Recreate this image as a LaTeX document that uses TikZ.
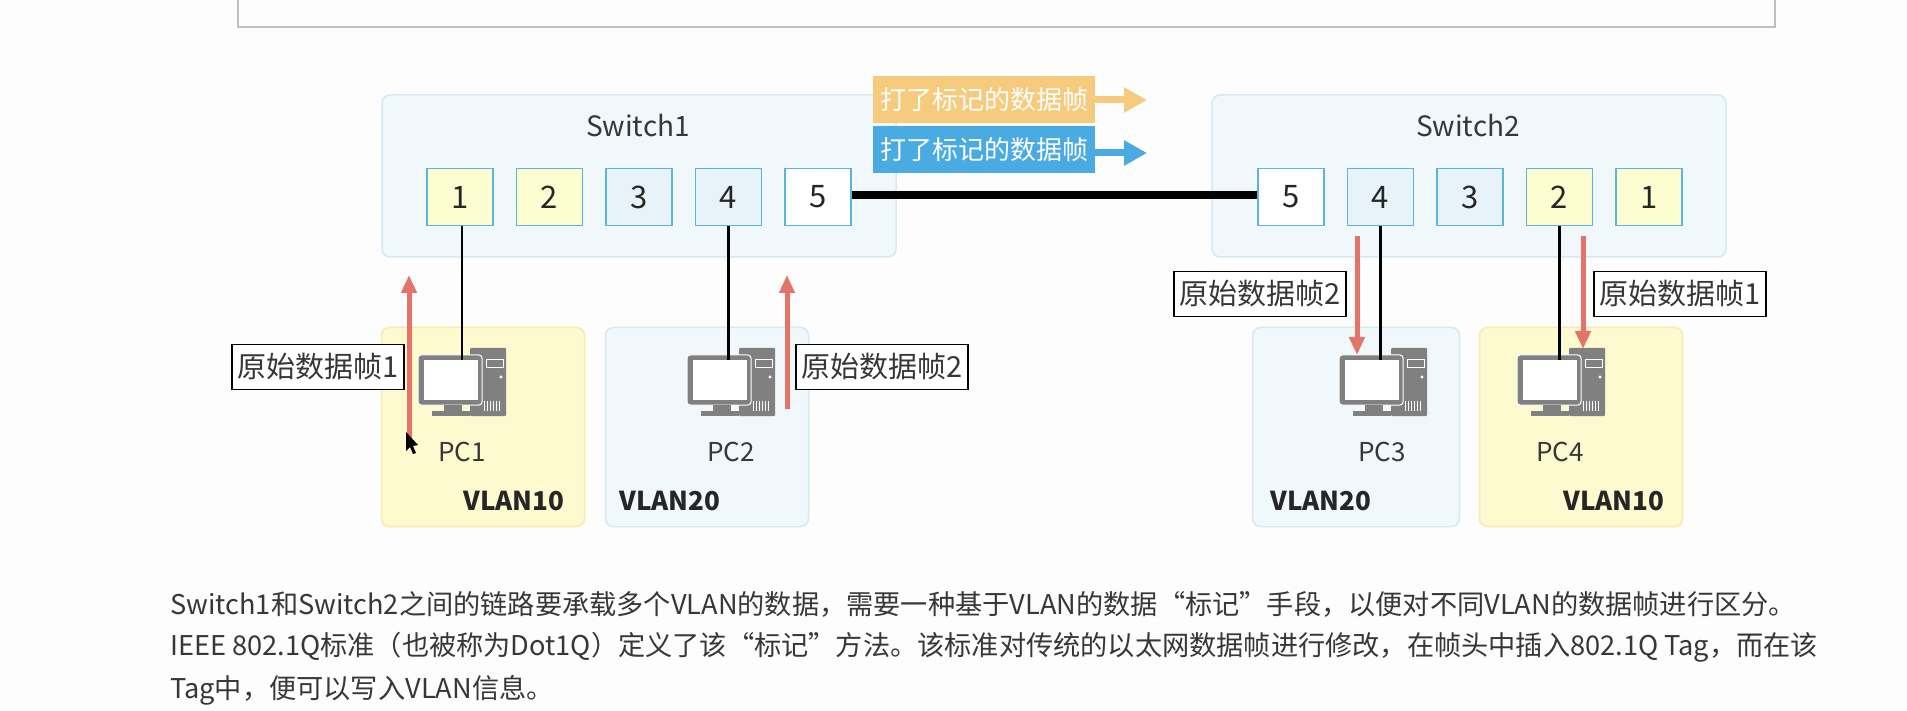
\documentclass[tikz,border=0pt]{standalone}
\usepackage{fontspec}
\setmainfont{Noto Sans CJK SC}
\usepackage{tikz}
\usetikzlibrary{arrows.meta,positioning}
\definecolor{portline}  {RGB}{ 90,180,220}
\definecolor{swline}    {RGB}{214,233,242}
\definecolor{swbg}      {RGB}{241,248,252}
\definecolor{vlanyellow}{RGB}{254,250,208}
\definecolor{vlanedge}  {RGB}{252,232,170}
\definecolor{portyellow}{RGB}{254,253,210}
\definecolor{portblue}  {RGB}{232,243,249}
\definecolor{pcgray}    {RGB}{128,128,128}
\definecolor{framered}  {RGB}{228,115,105}
\definecolor{tagorange} {RGB}{246,203,126}
\definecolor{tagblue}   {RGB}{ 74,171,227}
\definecolor{textgray}  {RGB}{ 55, 55, 55}
\definecolor{pagebg}    {RGB}{253,253,253}

\begin{document}
\begin{tikzpicture}[
    x=1pt, y=-1pt,
    node distance=22pt,
    switchbox/.style={draw=swline, fill=swbg, line width=1.5pt, rounded corners=8pt, minimum width=514pt, minimum height=162pt},
    vlanyel/.style={draw=vlanedge, fill=vlanyellow, line width=1.5pt, rounded corners=8pt, minimum width=203pt, minimum height=199pt},
    vlanblu/.style={draw=swline, fill=swbg, line width=1.5pt, rounded corners=8pt, minimum width=203pt, minimum height=199pt},
    port/.style={draw=portline, line width=1.5pt, minimum width=66pt, minimum height=57pt, inner sep=0pt, font=\fontsize{31}{34}\selectfont, text=black!85},
    portyel/.style={port, fill=portyellow},
    portblu/.style={port, fill=portblue},
    portwht/.style={port, fill=white},
    framelabel/.style={draw=black, fill=white, line width=1.5pt, inner sep=0pt, minimum width=172pt, minimum height=45pt, font=\fontsize{29}{32}\selectfont, text=textgray},
    taglabel/.style={minimum width=222pt, minimum height=47pt, inner sep=0pt, font=\fontsize{26}{30}\selectfont, text=white},
    nametext/.style={font=\fontsize{26}{30}\selectfont, text=textgray},
    vlanname/.style={font=\bfseries\fontsize{26}{30}\selectfont, text=black!85},
    para/.style={anchor=west, inner sep=0pt, font=\fontsize{27.2}{30}\selectfont, text=textgray},
    link/.style={draw=black, line width=2.8pt},
    redarrow/.style={-{Triangle[width=15pt,length=18pt]}, draw=framered, fill=framered, line width=5pt},
    pcicon/.pic={
        \fill[pcgray, rounded corners=1pt] (8,-34) rectangle (44,34);
        \draw[white, line width=1pt] (24.5,-22) rectangle (41,-14);
        \fill[white] (39,-5) circle (1.6);
        \foreach \vx in {22,25,28,31,34,37} {
            \draw[white, line width=0.7pt] (\vx,19) -- (\vx,29);
        }
        \fill[pcgray, rounded corners=3pt, draw=white, line width=1pt] (-44,-27) rectangle (20,23);
        \node[minimum width=54pt, minimum height=40pt, inner sep=0pt, fill=white] (-mon) at (-11,-2) {};
        \fill[pcgray] (-18,23) rectangle (0,29);
        \fill[pcgray] (-30,29) rectangle (8,34);
    }
]
    \useasboundingbox[fill=pagebg] (0,0) rectangle (1907,711);

    % Empty frame cut off by the top edge
    \draw[draw=black!25, line width=2pt] (238,-2) -- (238,27) -- (1775,27) -- (1775,-2);

    % Switches
    \node[switchbox] (sw1) at (639,176) {};
    \node[switchbox] (sw2) at (1469,176) {};
    \node[nametext, font=\fontsize{28}{30}\selectfont] (sw1name) at (638,126) {Switch1};
    \node[nametext, font=\fontsize{28}{30}\selectfont] (sw2name) at (1468,126) {Switch2};

    % Ports of Switch1
    \node[portyel] (a1) at (460,197) {1};
    \node[portyel] (a2) [right=of a1] {2};
    \node[portblu] (a3) [right=of a2] {3};
    \node[portblu] (a4) [right=of a3] {4};
    \node[portwht] (a5) [right=of a4] {5};

    % Ports of Switch2
    \node[portwht] (b5) at (1291,197) {5};
    \node[portblu] (b4) [right=of b5] {4};
    \node[portblu] (b3) [right=of b4] {3};
    \node[portyel] (b2) [right=of b3] {2};
    \node[portyel] (b1) [right=of b2] {1};

    % VLAN areas
    \node[vlanyel] (v1) at (483,427) {};
    \node[vlanblu] (v2) at (707,427) {};
    \node[vlanblu, minimum width=207pt] (v3) at (1356,427) {};
    \node[vlanyel] (v4) at (1581,427) {};

    % Computers
    \pic (pc1) at (462,382) {pcicon};
    \pic (pc2) at (731,382) {pcicon};
    \pic (pc3) at (1383,382) {pcicon};
    \pic (pc4) at (1561,382) {pcicon};
    \node[nametext] (pc1name) at (462,452) {PC1};
    \node[nametext] (pc2name) at (731,452) {PC2};
    \node[nametext] (pc3name) at (1382,452) {PC3};
    \node[nametext] (pc4name) at (1560,452) {PC4};
    \node[vlanname] (v1name) at (514,501) {VLAN10};
    \node[vlanname] (v2name) at (670,501) {VLAN20};
    \node[vlanname] (v3name) at (1321,501) {VLAN20};
    \node[vlanname] (v4name) at (1614,501) {VLAN10};

    % Connections
    \draw[link] ([xshift=2pt]a1.south) -- ([xshift=2pt]a1.south |- pc1-mon.north);
    \draw[link] (a4.south) -- (a4.south |- pc2-mon.north);
    \draw[link] (b4.south) -- (b4.south |- pc3-mon.north);
    \draw[link] (b2.south) -- (b2.south |- pc4-mon.north);
    \draw[draw=black, line width=8pt] ([yshift=2pt]a5.east) -- ([yshift=2pt]b5.west);

    % Frame arrows
    \coordinate (r1a) at (409,443);
    \coordinate (r1b) at (409,275);
    \coordinate (r2a) at (787,409);
    \coordinate (r2b) at (787,275);
    \coordinate (r3a) at (1357,236);
    \coordinate (r3b) at (1357,355);
    \coordinate (r4a) at (1583,236);
    \coordinate (r4b) at (1583,349);
    \draw[redarrow] (r1a) -- (r1b);
    \draw[redarrow] (r2a) -- (r2b);
    \draw[redarrow] (r3a) -- (r3b);
    \draw[redarrow] (r4a) -- (r4b);
    \node[framelabel] (f1) at (318,367) {原始数据帧1};
    \node[framelabel] (f2) at (882,367) {原始数据帧2};
    \node[framelabel] (f3) at (1260,294) {原始数据帧2};
    \node[framelabel] (f4) at (1680,294) {原始数据帧1};

    % Tagged frame legend
    \node[taglabel, fill=tagorange] (tag1) at (984,100) {打了标记的数据帧};
    \node[taglabel, fill=tagblue] (tag2) [below=2pt of tag1] {打了标记的数据帧};
    \coordinate (tag1end) at (1147,100);
    \coordinate (tag2end) at (1147,153);
    \draw[-{Triangle[width=24pt,length=23pt]}, draw=tagorange, line width=7pt] (tag1.east) -- (tag1end);
    \draw[-{Triangle[width=24pt,length=23pt]}, draw=tagblue, line width=7pt] (tag2.east |- tag2end) -- (tag2end);

    % Mouse pointer
    \fill[black] (406,432) -- (406,451) -- (410,447) -- (413,454) -- (416,453) -- (413,446) -- (418,445) -- cycle;

    % Text below the picture
    \node[para] (line1) at (170,604) {Switch1和Switch2之间的链路要承载多个VLAN的数据，需要一种基于VLAN的数据“标记”手段，以便对不同VLAN的数据帧进行区分。};
    \node[para] (line2) at (170,647) {IEEE 802.1Q标准（也被称为Dot1Q）定义了该“标记”方法。该标准对传统的以太网数据帧进行修改，在帧头中插入802.1Q Tag，而在该};
    \node[para] (line3) at (170,690) {Tag中，便可以写入VLAN信息。};
\end{tikzpicture}
\end{document}
